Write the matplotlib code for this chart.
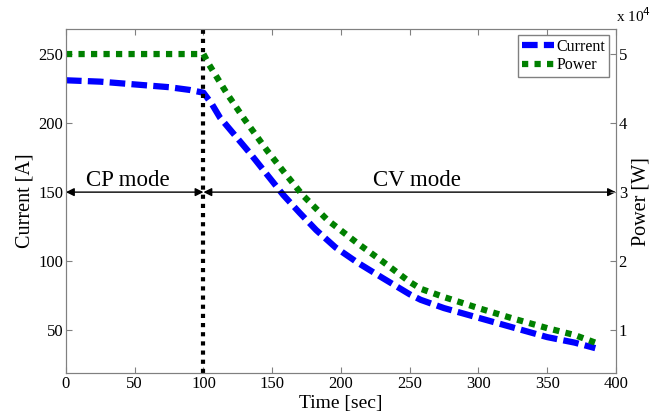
import numpy as np
import matplotlib.pyplot as plt
from matplotlib.ticker import FuncFormatter

# values
t_cur = [0, 25, 50, 75, 90, 100, 106, 112, 123, 134, 146, 158, 170, 182, 196, 212, 230,
         250, 258, 275, 300, 325, 350, 370, 385]
current = [231, 230, 228, 226, 224, 222, 214, 204, 191, 178, 163, 148, 135, 122.5, 110, 99, 88,
           76, 72, 66, 59, 52, 45, 41, 37]

t_pow = [0, 50, 100, 104, 117, 130, 146, 159, 172, 190, 212, 230, 250, 258, 275, 300, 325,
         350, 370, 385]
power = [5.0e4, 5.0e4, 5.0e4, 4.85e4, 4.43e4, 4.05e4, 3.61e4, 3.28e4, 2.96e4, 2.6e4, 2.26e4,
         2.0e4, 1.7e4, 1.6e4, 1.48e4, 1.32e4, 1.17e4, 1.03e4, 0.93e4, 0.82e4]

t_switch = 100
arrow_level = 150

plt.rcParams['font.family'] = 'Liberation Serif'

fig = plt.figure(figsize=(6.61, 4.17), dpi=100)
ax = fig.add_axes([0.0998, 0.1055, 0.832, 0.8245])
ax2 = ax.twinx()

ylo, yhi = 19, 268
ax.set_xlim(0, 400)
ax.set_ylim(ylo, yhi)
ax2.set_ylim(ylo / 250 * 5e4, yhi / 250 * 5e4)

l1, = ax.plot(t_cur, current, color='#0000ff', lw=4.5, ls=(0, (2.5, 1)), label='Current')
l2, = ax2.plot(t_pow, power, color='#008000', lw=4.5, ls=(0, (1, 1)), label='Power')
ax.axvline(t_switch, color='black', lw=3, ls=(0, (1, 1.2)))

# mode arrows
ax.annotate('', xy=(0, arrow_level), xytext=(t_switch, arrow_level),
            arrowprops=dict(arrowstyle='<|-|>', color='black', lw=1, mutation_scale=12,
                            shrinkA=0, shrinkB=0))
ax.annotate('', xy=(t_switch, arrow_level), xytext=(400, arrow_level),
            arrowprops=dict(arrowstyle='<|-|>', color='black', lw=1, mutation_scale=12,
                            shrinkA=0, shrinkB=0))
ax.text(45, arrow_level + 4.5, 'CP mode', fontsize=16.5, ha='center', va='baseline')
ax.text(255, arrow_level + 4.5, 'CV mode', fontsize=16.5, ha='center', va='baseline')

ax.set_xticks(range(0, 401, 50))
ax.set_yticks([50, 100, 150, 200, 250])
ax2.set_yticks([1e4, 2e4, 3e4, 4e4, 5e4])
ax2.yaxis.set_major_formatter(FuncFormatter(lambda v, p: f'{v / 1e4:g}'))
ax.text(1.0, 1.012, r'x 10$^4$', transform=ax.transAxes, fontsize=11, ha='left', va='bottom')

ax.set_xlabel('Time [sec]', fontsize=14, labelpad=2)
ax.set_ylabel('Current [A]', fontsize=14.5, labelpad=3)
ax2.set_ylabel('Power [W]', fontsize=14.5, labelpad=3)

for a in (ax, ax2):
    for s in a.spines.values():
        s.set_color('#808080')
    a.tick_params(direction='in', length=4, color='#808080', labelsize=12, pad=2)
ax.tick_params(top=True)

leg = ax.legend([l1, l2], ['Current', 'Power'], loc='upper right', fontsize=11.5,
                handlelength=2.0, handletextpad=0.15, borderpad=0.25, labelspacing=0.15,
                borderaxespad=0, fancybox=False, framealpha=1, edgecolor='#808080',
                bbox_to_anchor=(0.988, 0.983))
leg.get_frame().set_linewidth(1)

fig.savefig('out.png', dpi=100)
